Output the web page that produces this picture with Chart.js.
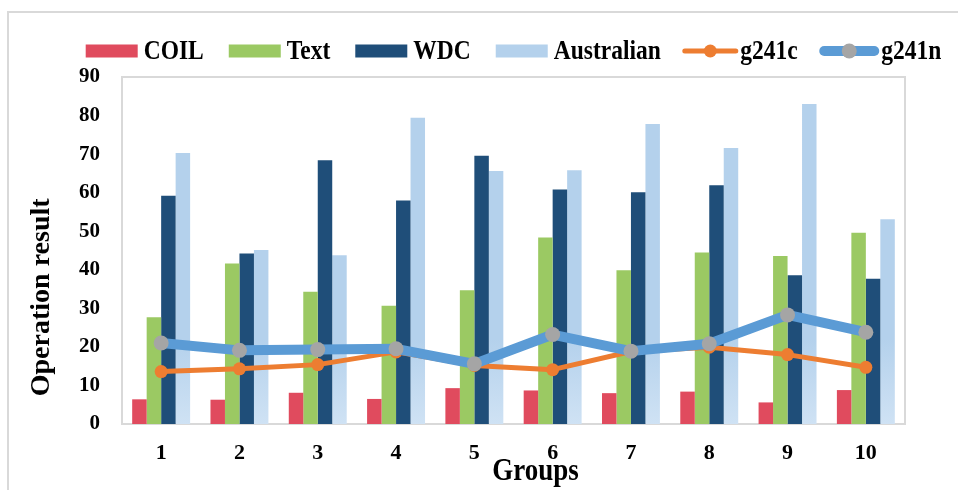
<!DOCTYPE html>
<html>
<head>
<meta charset="utf-8">
<script src="https://cdn.jsdelivr.net/npm/chart.js@4.4.0/dist/chart.umd.min.js"></script>
<style>
html,body{margin:0;padding:0;background:#ffffff;}
#wrap{width:958px;height:490px;position:relative;}
</style>
</head>
<body>
<div id="wrap"><canvas id="c"></canvas></div>
<script>
// ---- data ----
const categories = ['1','2','3','4','5','6','7','8','9','10'];
const COIL       = [6.4, 6.3, 8.1, 6.5, 9.3, 8.7, 8.0, 8.4, 5.6, 8.8];
const Text       = [27.7, 41.6, 34.3, 30.7, 34.7, 48.4, 39.9, 44.5, 43.6, 49.6];
const WDC        = [59.2, 44.2, 68.4, 58.0, 69.6, 60.8, 60.1, 61.9, 38.6, 37.7];
const Australian = [70.3, 45.1, 43.8, 79.4, 65.6, 65.8, 77.8, 71.6, 83.0, 53.1];
const g241c      = [13.6, 14.3, 15.4, 18.7, 15.2, 14.1, 18.8, 19.9, 18.0, 14.7];
const g241n      = [21.0, 19.1, 19.3, 19.5, 15.6, 23.2, 18.9, 20.8, 28.3, 23.8];
const yTicks     = [0, 10, 20, 30, 40, 50, 60, 70, 80, 90];
const yTitle = 'Operation result';
const xTitle = 'Groups';

const FONT = '"Liberation Serif", "Times New Roman", serif';
const GRID_GRAY = '#D9D9D9';

function ausGradient(context) {
  const chart = context.chart;
  const ca = chart.chartArea;
  if (!ca) return '#B4D1EC';
  const y = chart.scales.y;
  const g = chart.ctx.createLinearGradient(0, y.getPixelForValue(22), 0, ca.bottom);
  g.addColorStop(0, '#B4D1EC');
  g.addColorStop(1, '#CFE2F4');
  return g;
}

const framePlugin = {
  id: 'frame',
  beforeDraw(chart) {
    const ctx = chart.ctx;
    ctx.save();
    ctx.fillStyle = '#ffffff';
    ctx.fillRect(0, 0, chart.width, chart.height);
    ctx.strokeStyle = GRID_GRAY;
    ctx.lineWidth = 2;
    ctx.beginPath();
    ctx.moveTo(8, chart.height);
    ctx.lineTo(8, 12);
    ctx.lineTo(chart.width, 12);
    ctx.stroke();
    ctx.restore();
  },
  beforeDatasetsDraw(chart) {
    const ctx = chart.ctx;
    const ca = chart.chartArea;
    ctx.save();
    ctx.strokeStyle = GRID_GRAY;
    ctx.lineWidth = 2;
    ctx.strokeRect(ca.left, ca.top, ca.right - ca.left, ca.bottom - ca.top);
    ctx.restore();
  }
};

const legendPlugin = {
  id: 'customLegend',
  afterDraw(chart) {
    const ctx = chart.ctx;
    const ca = chart.chartArea;
    ctx.save();
    ctx.font = 'bold 23.5px ' + FONT;
    ctx.textBaseline = 'middle';
    ctx.textAlign = 'left';
    const lineSymW = {g241c: 56, g241n: 60};
    const items = chart.data.datasets.map(ds => {
      const isLine = ds.type === 'line';
      return {
        ds, isLine,
        symW: isLine ? (lineSymW[ds.label] || 56) : 52,
        gap: isLine ? 2 : 6,
        textW: ctx.measureText(ds.label).width
      };
    });
    let total = 0;
    items.forEach((it, i) => {
      if (i > 0) total += it.isLine ? 21.5 : 25;
      total += it.symW + it.gap + it.textW;
    });
    let x = (ca.left + ca.right) / 2 - total / 2;
    const cy = 51;
    items.forEach((it, i) => {
      if (i > 0) x += it.isLine ? 21.5 : 25;
      const ds = it.ds;
      if (!it.isLine) {
        const col = typeof ds.backgroundColor === 'function' ? '#B4D1EC' : ds.backgroundColor;
        ctx.fillStyle = col;
        ctx.fillRect(x, cy - 6.5, it.symW, 13);
      } else {
        ctx.strokeStyle = ds.borderColor;
        ctx.lineWidth = ds.borderWidth;
        ctx.lineCap = 'round';
        const inset = ds.borderWidth / 2;
        ctx.beginPath();
        ctx.moveTo(x + inset, cy);
        ctx.lineTo(x + it.symW - inset, cy);
        ctx.stroke();
        ctx.fillStyle = ds.pointBackgroundColor;
        ctx.beginPath();
        ctx.arc(x + it.symW / 2, cy, ds.pointRadius, 0, Math.PI * 2);
        ctx.fill();
      }
      x += it.symW + it.gap;
      ctx.fillStyle = '#000000';
      ctx.save();
      ctx.translate(x, cy + 1);
      ctx.scale(1, 1.12);
      ctx.fillText(ds.label, 0, 0);
      ctx.restore();
      x += it.textW;
    });
    ctx.restore();
  }
};

const titlePlugin = {
  id: 'axisTitles',
  afterDraw(chart) {
    const ctx = chart.ctx;
    const ca = chart.chartArea;
    ctx.save();
    ctx.fillStyle = '#000000';
    // x title
    ctx.save();
    ctx.font = 'bold 27px ' + FONT;
    ctx.textAlign = 'center';
    ctx.textBaseline = 'alphabetic';
    ctx.translate(ca.left + (ca.right - ca.left) * 0.528, ca.bottom + 56);
    ctx.scale(1, 1.18);
    ctx.fillText(xTitle, 0, 0);
    ctx.restore();
    // y title
    ctx.font = 'bold 28px ' + FONT;
    ctx.textAlign = 'center';
    ctx.translate(42, ca.top + (ca.bottom - ca.top) * 0.635);
    ctx.rotate(-Math.PI / 2);
    ctx.textBaseline = 'middle';
    ctx.fillText(yTitle, 0, 0);
    ctx.restore();
  }
};

const barCommon = {categoryPercentage: 0.74, barPercentage: 1.0, borderWidth: 0, order: 3};

new Chart(document.getElementById('c'), {
  type: 'bar',
  data: {
    labels: categories,
    datasets: [
      Object.assign({label: 'COIL', data: COIL, backgroundColor: '#E04B5E'}, barCommon),
      Object.assign({label: 'Text', data: Text, backgroundColor: '#9BC963'}, barCommon),
      Object.assign({label: 'WDC', data: WDC, backgroundColor: '#1F4E79'}, barCommon),
      Object.assign({label: 'Australian', data: Australian, backgroundColor: ausGradient}, barCommon),
      {
        type: 'line', label: 'g241c', data: g241c, order: 2,
        borderColor: '#ED7D31', borderWidth: 5, borderCapStyle: 'round', borderJoinStyle: 'round',
        pointBackgroundColor: '#ED7D31', pointBorderColor: '#ED7D31', pointBorderWidth: 0,
        pointRadius: 6.5, pointHoverRadius: 6.5, tension: 0, fill: false
      },
      {
        type: 'line', label: 'g241n', data: g241n, order: 1,
        borderColor: '#5B9BD5', borderWidth: 10, borderCapStyle: 'round', borderJoinStyle: 'round',
        pointBackgroundColor: '#A5A5A5', pointBorderColor: '#A5A5A5', pointBorderWidth: 0,
        pointRadius: 7.5, pointHoverRadius: 7.5, tension: 0, fill: false
      }
    ]
  },
  options: {
    responsive: true,
    maintainAspectRatio: false,
    animation: false,
    devicePixelRatio: 1,
    layout: {padding: {top: 77, right: 53, bottom: 0, left: 0}},
    plugins: {
      legend: {display: false},
      tooltip: {enabled: false},
      title: {display: false}
    },
    scales: {
      x: {
        type: 'category',
        offset: true,
        grid: {display: false, drawTicks: false},
        border: {display: false},
        ticks: {color: '#000000', padding: 16, font: {family: FONT, size: 22, weight: 'bold'}},
        afterFit(scale) { scale.height = 66; }
      },
      y: {
        min: 0, max: 90,
        grid: {display: false, drawTicks: false},
        border: {display: false},
        afterBuildTicks(scale) { scale.ticks = yTicks.map(v => ({value: v})); },
        ticks: {color: '#000000', padding: 22, font: {family: FONT, size: 21, weight: 'bold'}},
        afterFit(scale) { scale.width = 122; }
      }
    }
  },
  plugins: [framePlugin, legendPlugin, titlePlugin]
});
</script>
</body>
</html>
